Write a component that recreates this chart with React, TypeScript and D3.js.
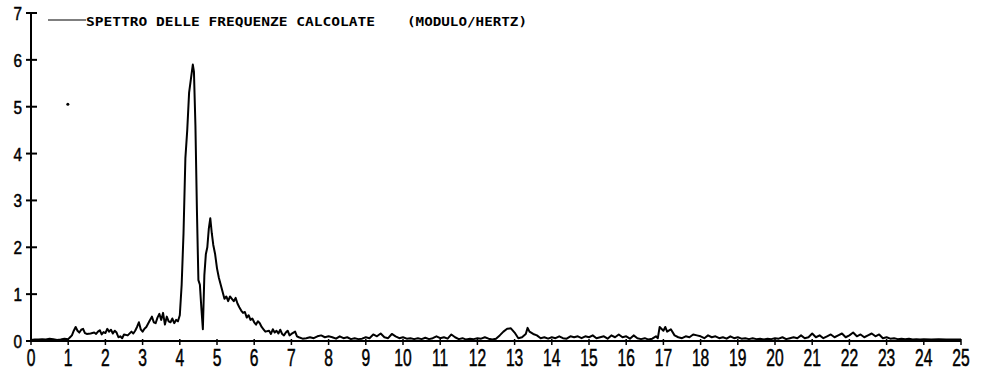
import React from "react";
import * as d3 from "d3";

const xTicks = [0,1,2,3,4,5,6,7,8,9,10,11,12,13,14,15,16,17,18,19,20,21,22,23,24,25];
const yTicks = [0,1,2,3,4,5,6,7];
const legendLabel = "SPETTRO DELLE FREQUENZE CALCOLATE";
const legendUnit = "(MODULO/HERTZ)";
const strayPoint = [0.99, 5.05];

const freqs = [
  0,0.1,0.2,0.3,0.4,0.5,0.6,0.7,0.8,0.9,1.0,1.05,1.1,1.15,1.2,1.25,1.3,1.35,1.4,1.45,1.5,1.6,1.7,1.75,1.8,1.85,1.9,1.95,
  2.0,2.05,2.1,2.15,2.2,2.25,2.3,2.35,2.4,2.45,2.5,2.6,2.7,2.75,2.8,2.85,2.9,2.95,
  3.0,3.05,3.1,3.2,3.25,3.3,3.35,3.4,3.45,3.5,3.55,3.6,3.65,3.7,3.75,3.8,3.85,3.9,3.95,
  4.0,4.05,4.1,4.15,4.2,4.25,4.3,4.35,4.38,4.42,4.46,4.5,4.54,4.58,4.62,4.66,4.7,4.74,4.78,4.82,4.86,4.9,4.95,
  5.0,5.05,5.1,5.15,5.2,5.25,5.3,5.35,5.4,5.45,5.5,5.55,5.6,5.65,5.7,5.75,5.8,5.85,5.9,5.95,
  6.0,6.05,6.1,6.15,6.2,6.25,6.3,6.4,6.45,6.5,6.55,6.6,6.65,6.7,6.75,6.8,6.85,6.9,6.95,
  7.0,7.1,7.15,7.2,7.3,7.4,7.5,7.6,7.7,7.8,7.9,
  8.0,8.1,8.2,8.3,8.4,8.5,8.6,8.7,8.8,8.9,
  9.0,9.1,9.2,9.3,9.4,9.5,9.6,9.7,9.8,9.9,
  10.0,10.1,10.2,10.3,10.4,10.5,10.6,10.7,10.8,10.9,
  11.0,11.1,11.2,11.3,11.4,11.5,11.6,11.7,11.8,11.9,
  12.0,12.1,12.2,12.3,12.4,12.5,12.6,12.7,12.8,12.9,
  13.0,13.1,13.2,13.3,13.35,13.4,13.5,13.6,13.7,13.8,13.9,
  14.0,14.1,14.2,14.3,14.4,14.5,14.6,14.7,14.8,14.9,
  15.0,15.1,15.2,15.3,15.4,15.5,15.6,15.7,15.8,15.9,
  16.0,16.1,16.2,16.3,16.4,16.5,16.6,16.7,16.8,16.85,16.9,
  17.0,17.05,17.1,17.2,17.3,17.4,17.5,17.6,17.7,17.8,17.9,
  18.0,18.1,18.2,18.3,18.4,18.5,18.6,18.7,18.8,18.9,
  19.0,19.1,19.2,19.3,19.4,19.5,19.6,19.7,19.8,19.9,
  20.0,20.1,20.2,20.3,20.4,20.5,20.6,20.7,20.8,20.9,
  21.0,21.1,21.2,21.3,21.4,21.5,21.6,21.7,21.8,21.9,
  22.0,22.1,22.2,22.3,22.4,22.5,22.6,22.7,22.8,22.9,
  23.0,23.1,23.2,23.3,23.4,23.5,23.6,23.7,23.8,23.9,
  24.0,24.2,24.4,24.6,24.8,25.0
];

const moduli = [
  0.02,0.03,0.03,0.04,0.03,0.05,0.04,0.02,0.03,0.05,0.04,0.08,0.12,0.22,0.30,0.22,0.18,0.24,0.26,0.17,0.15,0.16,0.18,0.15,0.20,0.23,0.14,0.19,
  0.17,0.26,0.20,0.24,0.16,0.22,0.18,0.08,0.10,0.06,0.14,0.12,0.20,0.16,0.22,0.30,0.40,0.25,
  0.20,0.26,0.30,0.45,0.52,0.40,0.38,0.50,0.58,0.45,0.60,0.35,0.52,0.42,0.40,0.48,0.38,0.45,0.42,
  0.55,1.20,2.30,3.90,4.50,5.30,5.60,5.90,5.75,4.60,2.80,1.30,1.20,0.70,0.25,1.40,1.85,2.00,2.40,2.62,2.30,2.05,1.85,
  1.55,1.35,1.20,1.05,0.90,0.95,0.85,0.95,0.90,0.85,0.92,0.80,0.72,0.65,0.60,0.62,0.50,0.55,0.45,0.48,
  0.40,0.35,0.42,0.38,0.30,0.25,0.20,0.22,0.15,0.25,0.18,0.22,0.16,0.24,0.15,0.12,0.18,0.22,0.12,
  0.15,0.20,0.10,0.08,0.05,0.06,0.08,0.06,0.10,0.12,0.08,
  0.10,0.08,0.05,0.10,0.06,0.08,0.04,0.06,0.04,0.05,
  0.08,0.06,0.14,0.10,0.16,0.08,0.06,0.15,0.10,0.06,
  0.08,0.05,0.06,0.04,0.06,0.04,0.07,0.04,0.06,0.10,
  0.06,0.08,0.05,0.14,0.08,0.04,0.06,0.03,0.05,0.04,
  0.06,0.05,0.08,0.05,0.03,0.05,0.12,0.20,0.26,0.27,
  0.18,0.06,0.08,0.15,0.28,0.20,0.15,0.12,0.06,0.08,0.05,
  0.08,0.06,0.10,0.06,0.05,0.10,0.08,0.10,0.06,0.10,
  0.08,0.12,0.06,0.08,0.10,0.05,0.12,0.08,0.14,0.08,
  0.10,0.05,0.12,0.06,0.04,0.06,0.03,0.05,0.10,0.06,0.30,
  0.22,0.30,0.20,0.25,0.12,0.08,0.06,0.10,0.08,0.14,0.12,
  0.10,0.06,0.12,0.08,0.10,0.06,0.08,0.05,0.10,0.06,
  0.08,0.05,0.06,0.04,0.06,0.04,0.05,0.03,0.05,0.04,
  0.06,0.05,0.08,0.04,0.06,0.08,0.06,0.12,0.06,0.08,
  0.16,0.08,0.12,0.06,0.10,0.14,0.08,0.12,0.16,0.08,
  0.12,0.18,0.10,0.14,0.08,0.12,0.16,0.10,0.14,0.06,
  0.08,0.05,0.06,0.04,0.05,0.04,0.05,0.03,0.04,0.03,
  0.04,0.03,0.04,0.03,0.03,0.03
];

const W = 981;
const H = 373;

export default function App() {
  const x = d3.scaleLinear().domain([0, 25]).range([31, 961]);
  const y = d3.scaleLinear().domain([0, 7]).range([341, 13]);
  const pts: [number, number][] = freqs.map((f, i) => [f, moduli[i]]);
  const line = d3.line<[number, number]>().x(d => x(d[0])).y(d => y(d[1]));

  return (
    <svg width={W} height={H} style={{ position: "absolute", left: 0, top: 0, background: "#fff" }}>
      <rect x={0} y={0} width={W} height={H} fill="#fff" />
      {/* y axis */}
      <line x1={x(0)} x2={x(0)} y1={y(7)} y2={y(0)} stroke="#000" strokeWidth={2} />
      {yTicks.map(t => (
        <g key={"y" + t}>
          <line x1={x(0) - 5} x2={x(0) + 6} y1={y(t)} y2={y(t)} stroke="#000" strokeWidth={2} />
          <text
            transform={`translate(${x(0) - 9},${y(t) + 7}) scale(0.85,1)`}
            textAnchor="end"
            fontFamily="Liberation Sans, Arial, sans-serif"
            fontSize={18}
            stroke="#000"
            strokeWidth={0.5}
            fill="#000"
          >{t}</text>
        </g>
      ))}
      {/* x axis */}
      <line x1={x(0)} x2={x(25)} y1={y(0)} y2={y(0)} stroke="#000" strokeWidth={2} />
      {xTicks.map(t => (
        <g key={"x" + t}>
          <line x1={x(t)} x2={x(t)} y1={y(0) - 2} y2={y(0) + 4} stroke="#000" strokeWidth={1.5} />
          <text
            transform={`translate(${x(t)},${366}) scale(0.68,1)`}
            textAnchor="middle"
            fontFamily="Liberation Sans, Arial, sans-serif"
            fontSize={23}
            stroke="#000"
            strokeWidth={0.5}
            fill="#000"
          >{t}</text>
        </g>
      ))}
      {/* legend */}
      <line x1={48} x2={86} y1={20} y2={20} stroke="#000" strokeWidth={1.2} />
      <text x={86} y={26} fontFamily="DejaVu Sans Mono, monospace" fontWeight="bold" fontSize={12}
        textLength={289} lengthAdjust="spacingAndGlyphs" fill="#000">{legendLabel}</text>
      <text x={407} y={26} fontFamily="DejaVu Sans Mono, monospace" fontWeight="bold" fontSize={12}
        textLength={120} lengthAdjust="spacingAndGlyphs" fill="#000">{legendUnit}</text>
      {/* data */}
      <path d={line(pts) || ""} fill="none" stroke="#000" strokeWidth={2} strokeLinejoin="round" />
      <circle cx={x(strayPoint[0])} cy={y(strayPoint[1])} r={1.5} fill="#000" />
    </svg>
  );
}
